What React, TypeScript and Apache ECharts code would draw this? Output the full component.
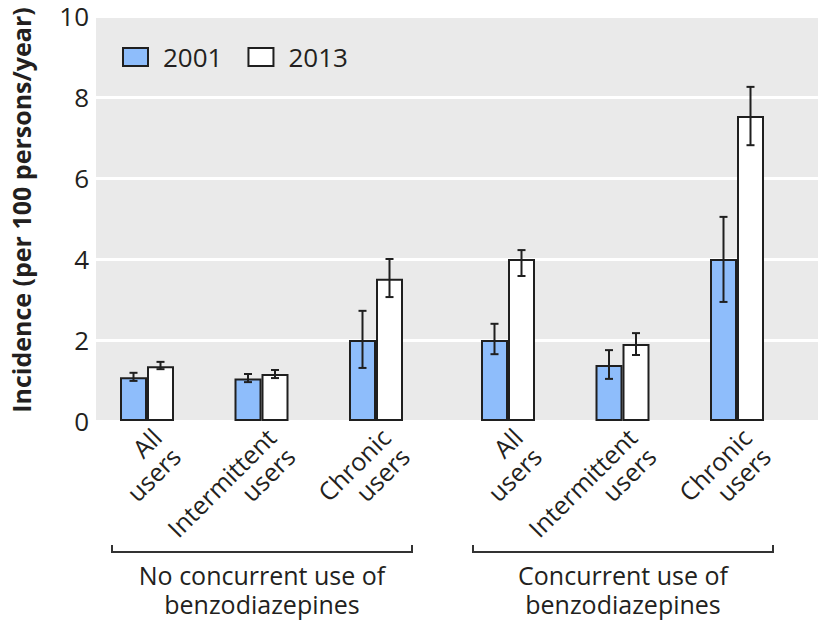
import React, { useEffect, useRef } from "react";
import * as echarts from "echarts";

const categories = ["All\nusers", "Intermittent\nusers", "Chronic\nusers"];
const sectionLabels = ["No concurrent use of\nbenzodiazepines", "Concurrent use of\nbenzodiazepines"];
const yearNames = ["2001", "2013"];

// order: no concurrent (all, intermittent, chronic), concurrent (all, intermittent, chronic)
const values2001 = [1.08, 1.05, 2.0, 2.0, 1.38, 4.0];
const lower2001 = [0.99, 0.96, 1.31, 1.65, 1.04, 2.94];
const upper2001 = [1.19, 1.16, 2.72, 2.4, 1.75, 5.04];
const values2013 = [1.35, 1.16, 3.51, 4.0, 1.9, 7.53];
const lower2013 = [1.28, 1.06, 3.06, 3.58, 1.63, 6.81];
const upper2013 = [1.46, 1.26, 4.0, 4.22, 2.17, 8.25];

const yTicks = { min: 0, max: 10, interval: 2 };
const yTitle = "Incidence (per 100 persons/year)";

const FONT = "'Open Sans', 'Noto Sans', sans-serif";
const TEXT = "#231f20";
const EDGE = "#1f1f1f";
const BLUE = "#8ebdfb";
const BAR_W = 27;

export default function App() {
  const ref = useRef<HTMLDivElement>(null);
  useEffect(() => {
    document.body.style.margin = "0";
    if (!ref.current) return;
    const chart = echarts.init(ref.current, null, { renderer: "svg" });

    const sectionSlices = [
      [0, 3],
      [3, 6],
    ];
    const series: any[] = [];
    sectionSlices.forEach(([a, b], s) => {
      const axisIdx = s + 1;
      const sets = [
        { name: yearNames[0], v: values2001, lo: lower2001, hi: upper2001, color: BLUE, side: -1 },
        { name: yearNames[1], v: values2013, lo: lower2013, hi: upper2013, color: "#ffffff", side: 1 },
      ];
      sets.forEach((st) => {
        series.push({
          type: "bar",
          name: st.name,
          xAxisIndex: axisIdx,
          yAxisIndex: axisIdx,
          data: st.v.slice(a, b),
          barWidth: BAR_W,
          barGap: "0%",
          itemStyle: { color: st.color, borderColor: EDGE, borderWidth: 2 },
          z: 2,
        });
      });
      sets.forEach((st) => {
        const hi = st.hi.slice(a, b);
        const data = st.lo.slice(a, b).map((lo, i) => [i, lo, hi[i]]);
        series.push({
          type: "custom",
          name: st.name + " CI",
          xAxisIndex: axisIdx,
          yAxisIndex: axisIdx,
          data,
          z: 5,
          renderItem: (params: any, api: any) => {
            const lowPt = api.coord([api.value(0), api.value(1)]);
            const highPt = api.coord([api.value(0), api.value(2)]);
            const x = lowPt[0] + (st.side * BAR_W) / 2;
            const cap = 4;
            const style = { stroke: EDGE, lineWidth: 2 };
            return {
              type: "group",
              children: [
                { type: "line", shape: { x1: x, y1: lowPt[1], x2: x, y2: highPt[1] }, style },
                { type: "line", shape: { x1: x - cap, y1: lowPt[1], x2: x + cap, y2: lowPt[1] }, style },
                { type: "line", shape: { x1: x - cap, y1: highPt[1], x2: x + cap, y2: highPt[1] }, style },
              ],
            };
          },
        });
      });
    });

    const catAxis = (gridIndex: number) => ({
      type: "category",
      gridIndex,
      data: categories,
      axisLine: { show: false },
      axisTick: { show: false },
      axisLabel: {
        interval: 0,
        rotate: 45,
        align: "right",
        verticalAlign: "top",
        margin: 2,
        fontSize: 25,
        lineHeight: 27,
        fontFamily: FONT,
        color: TEXT,
      },
    });
    const hiddenY = (gridIndex: number) => ({
      type: "value",
      gridIndex,
      min: yTicks.min,
      max: yTicks.max,
      interval: yTicks.interval,
      show: false,
      splitLine: { show: false },
    });

    chart.setOption({
      animation: false,
      grid: [
        { left: 96, top: 16, width: 722, height: 405, show: true, backgroundColor: "#eaeaea", borderWidth: 0 },
        { left: 89.75, top: 16, width: 343.5, height: 405 },
        { left: 450.75, top: 16, width: 343.5, height: 405 },
      ],
      xAxis: [{ type: "value", gridIndex: 0, min: 0, max: 1, show: false, splitLine: { show: false } }, catAxis(1), catAxis(2)],
      yAxis: [
        {
          type: "value",
          gridIndex: 0,
          min: yTicks.min,
          max: yTicks.max,
          interval: yTicks.interval,
          axisLine: { show: false },
          axisTick: { show: false },
          axisLabel: { margin: 7, fontSize: 26, fontFamily: FONT, color: TEXT },
          splitLine: { show: true, lineStyle: { color: "#ffffff", width: 3 } },
        },
        hiddenY(1),
        hiddenY(2),
      ],
      legend: {
        data: yearNames,
        left: 122,
        top: 44,
        padding: 0,
        icon: "rect",
        itemWidth: 25,
        itemHeight: 18,
        itemGap: 25,
        itemStyle: { borderColor: EDGE, borderWidth: 2 },
        textStyle: { fontSize: 26, fontFamily: FONT, color: TEXT, padding: [0, 0, 0, 10] },
        selectedMode: false,
      },
      graphic: [
        {
          type: "text",
          x: 21,
          y: 210,
          rotation: Math.PI / 2,
          style: {
            text: yTitle,
            fontSize: 25,
            fontWeight: "bold",
            fontFamily: FONT,
            fill: TEXT,
            align: "center",
            verticalAlign: "middle",
          },
        },
        {
          type: "polyline",
          shape: { points: [[112, 545], [112, 552], [412, 552], [412, 545]] },
          style: { stroke: "#333", lineWidth: 2, fill: null },
        },
        {
          type: "polyline",
          shape: { points: [[473, 545], [473, 552], [773, 552], [773, 545]] },
          style: { stroke: "#333", lineWidth: 2, fill: null },
        },
        {
          type: "text",
          x: 262,
          y: 560,
          style: {
            text: sectionLabels[0],
            fontSize: 25,
            lineHeight: 29,
            fontFamily: FONT,
            fill: TEXT,
            align: "center",
            verticalAlign: "top",
          },
        },
        {
          type: "text",
          x: 623,
          y: 560,
          style: {
            text: sectionLabels[1],
            fontSize: 25,
            lineHeight: 29,
            fontFamily: FONT,
            fill: TEXT,
            align: "center",
            verticalAlign: "top",
          },
        },
      ],
      series,
    });
    return () => chart.dispose();
  }, []);
  return <div ref={ref} style={{ width: 820, height: 620 }} />;
}
